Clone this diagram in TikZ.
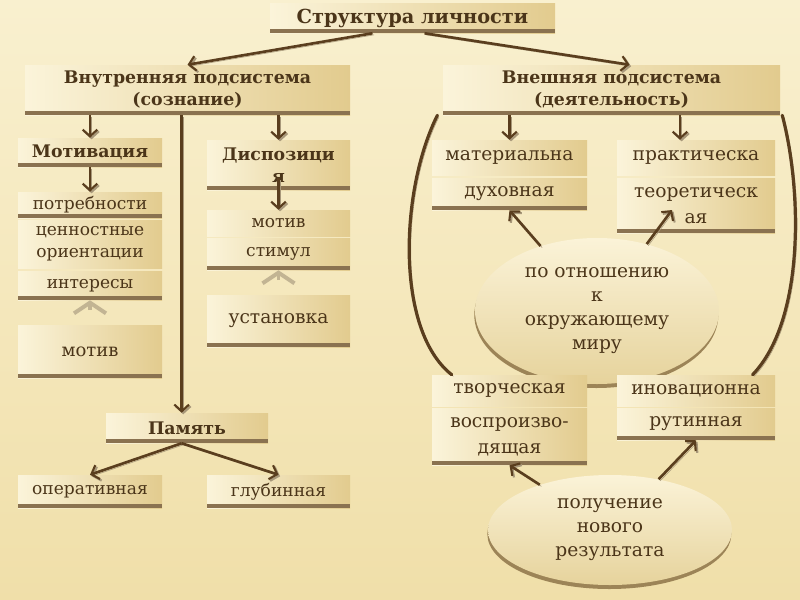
\documentclass[tikz,border=0pt]{standalone}
\usepackage{fontspec}
\setmainfont{DejaVu Serif}
\usetikzlibrary{arrows.meta,calc,shapes.geometric}
\definecolor{bgtop}{HTML}{F9F0CF}
\definecolor{bgbot}{HTML}{F0DFA9}
\definecolor{boxL}{HTML}{FBF4DA}
\definecolor{boxR}{HTML}{E2CB8E}
\definecolor{barc}{HTML}{8A7250}
\definecolor{txt}{HTML}{4B3519}
\definecolor{arrc}{HTML}{5A3E1E}
\definecolor{shad}{HTML}{A8987A}
\definecolor{ellT}{HTML}{FBF3D8}
\definecolor{ellB}{HTML}{E6D39C}
\definecolor{ellS}{HTML}{9C8457}
\definecolor{faintc}{HTML}{C2B493}
\tikzset{
 x=0.75pt, y=-0.75pt,
 box/.style={rectangle, inner sep=2pt, left color=boxL, right color=boxR, text=txt, align=center,
   path picture={\fill[barc] (path picture bounding box.south west) rectangle ([yshift=3pt]path picture bounding box.south east);}},
 plainbox/.style={rectangle, inner sep=2pt, left color=boxL, right color=boxR, text=txt, align=center},
 hd/.style={font=\bfseries\fontsize{13}{16.5}\selectfont},
 sm/.style={font=\fontsize{12.8}{16.5}\selectfont},
 lg/.style={font=\fontsize{14}{19.5}\selectfont},
 lw/.style={minimum width=108pt},
 arr/.style={draw=arrc, line width=2pt, -{Straight Barb[length=5pt,width=11pt,line width=1.6pt]},
   preaction={draw=shad, transform canvas={xshift=1.2pt,yshift=-1.2pt}}},
 curv/.style={draw=arrc, line width=2.4pt, line cap=round,
   preaction={draw=shad, transform canvas={xshift=1.2pt,yshift=-1.2pt}}},
 faint/.style={draw=faintc, line width=2.5pt, shorten <=11pt, -{Straight Barb[length=8pt,width=24pt,line width=3pt]}},
 ell/.style={ellipse, inner sep=0pt, top color=ellT, bottom color=ellB, text=txt, align=center,
   font=\fontsize{14}{18}\selectfont,
   preaction={fill=ellS, transform canvas={yshift=-3pt,xshift=-0.5pt}}},
}
\begin{document}
\begin{tikzpicture}
\useasboundingbox (0,0) rectangle (800,600);
\shade[top color=bgtop, bottom color=bgbot] (0,0) rectangle (800,600);

% title and subsystems
\node[box, font=\bfseries\fontsize{14.5}{17}\selectfont, minimum width=213.75pt, minimum height=22.5pt] (title) at (412.5,18) {Структура личности};
\node[box, hd, minimum width=243.75pt, minimum height=37.5pt] (inner) at (187.5,90) {Внутренняя подсистема\\(сознание)};
\node[box, hd, minimum width=252.75pt, minimum height=37.5pt] (outer) at (611.5,90) {Внешняя подсистема\\(деятельность)};

% left column
\node[box, hd, lw, minimum height=21.75pt] (motiv) at (90,152.5) {Мотивация};
\node[box, sm, lw, minimum height=19.5pt] (potr) at (90,205) {потребности};
\node[plainbox, sm, lw, minimum height=36pt] (cenn) at (90,244) {ценностные\\ориентации};
\node[box, sm, lw, minimum height=21.75pt] (inter) at (90,285.5) {интересы};
\node[box, font=\fontsize{13.5}{16}\selectfont, lw, minimum height=39.75pt] (motivL) at (90,351.5) {мотив};

% dispositions column
\node[box, hd, minimum width=107.25pt, minimum height=37.5pt] (disp) at (278.5,165) {Диспозици\\я};
\node[plainbox, sm, minimum width=107.25pt, minimum height=19.5pt] (motivD) at (278.5,223) {мотив};
\node[box, sm, minimum width=107.25pt, minimum height=24pt] (stim) at (278.5,254) {стимул};
\node[box, font=\fontsize{14}{16}\selectfont, minimum width=107.25pt, minimum height=39pt] (ust) at (278.5,321) {установка};

% memory
\node[box, hd, minimum width=121.5pt, minimum height=22.5pt] (pam) at (187,428) {Память};
\node[box, sm, lw, minimum height=24.75pt] (oper) at (90,491.5) {оперативная};
\node[box, sm, minimum width=107.25pt, minimum height=24.75pt] (glub) at (278.5,491.5) {глубинная};

% ellipses
\node[ell, minimum width=183pt, minimum height=109.5pt] (e1) at (597,311) {по отношению\\к\\окружающему\\миру};
\node[ell, minimum width=183pt, minimum height=82.5pt] (e2) at (610,530) {получение\\нового\\результата};

% right boxes
\node[plainbox, lg, minimum width=116.25pt, minimum height=26.25pt] (mat) at (509.5,157.5) {материальна};
\node[box, lg, minimum width=116.25pt, minimum height=24pt] (dux) at (509.5,194) {духовная};
\node[plainbox, lg, minimum width=118.5pt, minimum height=26.25pt] (prak) at (696,157.5) {практическа};
\node[box, lg, minimum width=118.5pt, minimum height=41.25pt] (teor) at (696,205.5) {теоретическ\\ая};
\node[plainbox, lg, minimum width=116.25pt, minimum height=23.25pt] (tvor) at (509.5,390.5) {творческая};
\node[box, lg, minimum width=116.25pt, minimum height=42.75pt] (voss) at (509.5,436.5) {воспроизво-\\дящая};
\node[plainbox, lg, minimum width=118.5pt, minimum height=23.25pt] (inov) at (696,390.5) {иновационна};
\node[box, lg, minimum width=118.5pt, minimum height=24pt] (rutin) at (696,424) {рутинная};

% faint arrows
\draw[faint] (motivL.north) -- (inter.south);
\draw[faint] (ust.north) -- (stim.south);

% arrows
\draw[arr] ([xshift=-30pt]title.south) -- (inner.north);
\draw[arr] ([xshift=9pt]title.south) -- ([xshift=13.5pt]outer.north);
\draw[arr] (inner.south -| motiv.north) -- (motiv.north);
\draw[arr] (inner.south -| disp.north) -- (disp.north);
\draw[arr] ([xshift=-4pt]inner.south -| pam.north) -- ([xshift=-4pt]pam.north);
\draw[arr] (motiv.south) -- (potr.north);
\draw[arr] ([yshift=9pt]disp.south) -- (motivD.north);
\draw[arr] ([xshift=-4pt]pam.south) -- (oper.north);
\draw[arr] ([xshift=-4pt]pam.south) -- (glub.north);
\draw[arr] (outer.south -| mat.north) -- (mat.north);
\draw[arr] ([xshift=-12pt]outer.south -| prak.north) -- ([xshift=-12pt]prak.north);
\draw[arr] (e1) -- (dux.south);
\draw[arr] (e1) -- ([xshift=-18pt,yshift=-3.4pt]teor.center);
\draw[arr] (e2) -- (voss.south);
\draw[arr] (e2) -- (rutin.south);

% big curves
\draw[curv] ([xshift=-4pt]outer.south west) .. controls (400,190) and (395,330) .. ([xshift=15pt]tvor.north west);
\draw[curv] ([xshift=1.5pt]outer.south east) .. controls (802,190) and (805,320) .. ([xshift=-17pt]inov.north east);
\end{tikzpicture}
\end{document}
